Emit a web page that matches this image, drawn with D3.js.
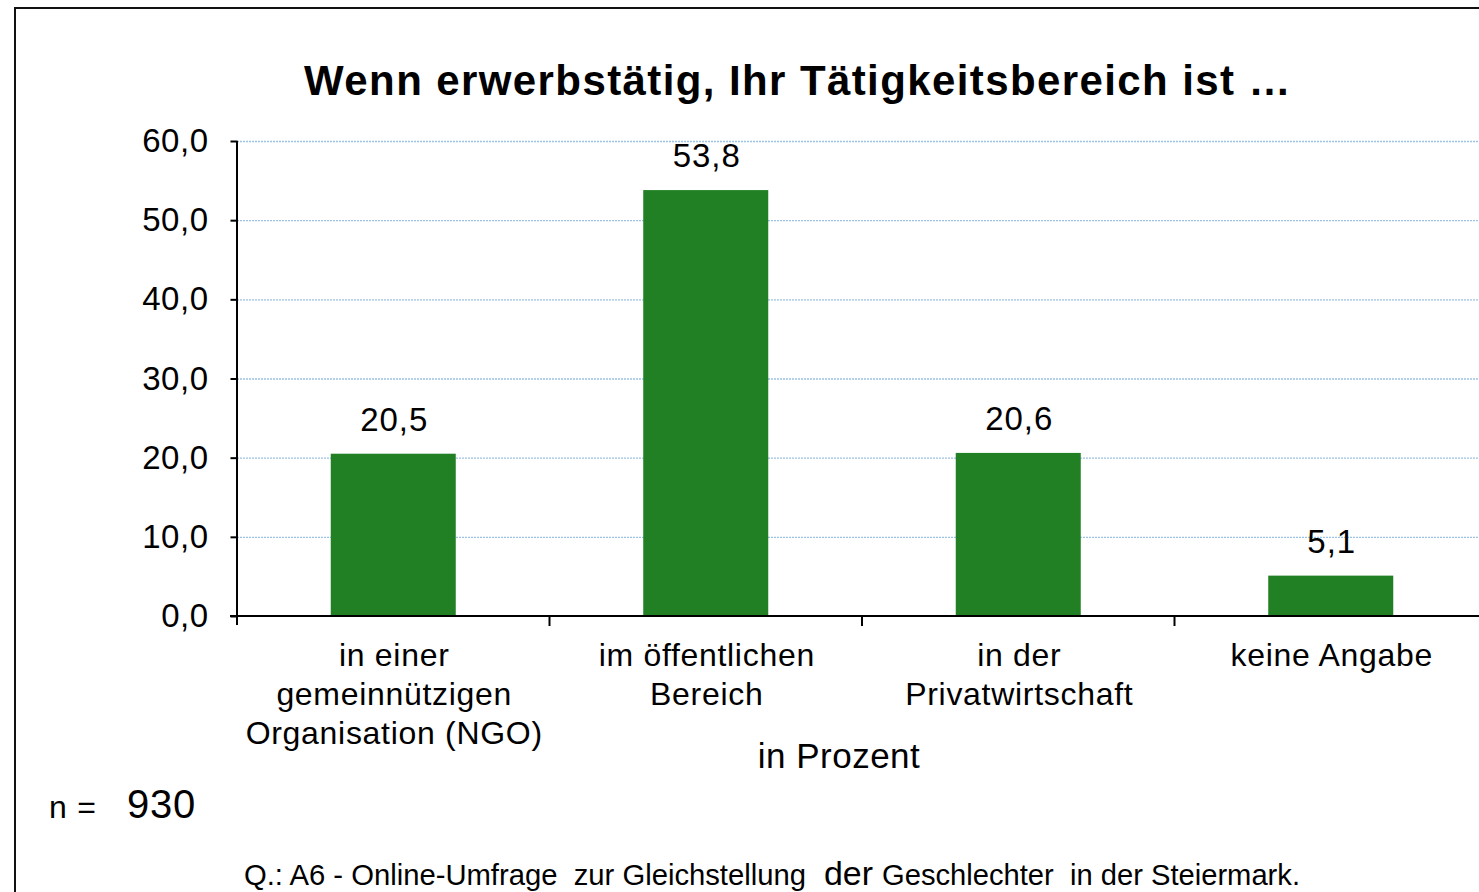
<!DOCTYPE html>
<html>
<head>
<meta charset="utf-8">
<script src="https://cdn.jsdelivr.net/npm/d3@7"></script>
<style>
  body { margin: 0; background: #fff; }
  svg { display: block; }
  text { font-family: Arial, "Liberation Sans", sans-serif; fill: #000; }
</style>
</head>
<body>
<svg id="fig_bar" width="1479" height="892"></svg>
<script>
'use strict';

// data
const categories = [
    ['in einer', 'gemeinnützigen', 'Organisation (NGO)'],
    ['im öffentlichen', 'Bereich'],
    ['in der', 'Privatwirtschaft'],
    ['keine Angabe']
];
const values = [20.5, 53.8, 20.6, 5.1];
const y_ticks = [0, 10, 20, 30, 40, 50, 60];
const title_text = 'Wenn erwerbstätig, Ihr Tätigkeitsbereich ist …';
const axis_title = 'in Prozent';
const n_label = 'n =';
const n_value = '930';
const source_parts = ['Q.: A6 - Online-Umfrage  zur Gleichstellung', 'der', 'Geschlechter  in der Steiermark.'];

const fig = {
    svg: d3.select('#fig_bar'),
    left: 237,
    right: 1487,
    top: 141,
    bottom: 616,
    color_bar: '#218023',
    color_grid: '#9cc2e6',
    font_size: 32,

    draw: function() {
        const svg = this.svg;

        // outer frame (cut off at right / bottom like the screenshot)
        svg.append('rect')
            .attr('x', 15).attr('y', 8)
            .attr('width', 1600).attr('height', 1000)
            .attr('fill', 'none')
            .attr('stroke', '#111')
            .attr('stroke-width', 2);

        const x = d3.scaleBand()
            .domain(d3.range(values.length))
            .range([this.left, this.right])
            .paddingInner(0.6)
            .paddingOuter(0.3);
        const x_edges = d3.scaleLinear()
            .domain([0, values.length])
            .range([this.left, this.right]);
        const y = d3.scaleLinear()
            .domain([0, 60])
            .range([this.bottom, this.top]);

        // gridlines
        svg.append('g')
            .selectAll('line')
            .data(y_ticks.filter(d => d > 0))
            .enter()
            .append('line')
            .attr('x1', this.left)
            .attr('x2', 1479)
            .attr('y1', d => y(d) + 0.5)
            .attr('y2', d => y(d) + 0.5)
            .attr('stroke', this.color_grid)
            .attr('stroke-width', 1.3)
            .attr('stroke-dasharray', '2,1');

        // bars
        svg.append('g')
            .selectAll('rect')
            .data(values)
            .enter()
            .append('rect')
            .attr('x', (d, i) => x(i))
            .attr('width', x.bandwidth())
            .attr('y', d => y(d))
            .attr('height', d => this.bottom - y(d))
            .attr('fill', this.color_bar);

        // value labels
        svg.append('g')
            .selectAll('text')
            .data(values)
            .enter()
            .append('text')
            .attr('x', (d, i) => x(i) + x.bandwidth() / 2 + 1)
            .attr('y', d => y(d) - 23)
            .attr('text-anchor', 'middle')
            .attr('font-size', 33)
            .attr('letter-spacing', 1)
            .text(d => d.toFixed(1).replace('.', ','));

        // y axis
        const y_axis = d3.axisLeft(y)
            .tickValues(y_ticks)
            .tickSize(7)
            .tickPadding(22)
            .tickFormat(d => d.toFixed(1).replace('.', ','));
        const gy = svg.append('g')
            .attr('transform', 'translate(' + (this.left + 0.5) + ',0)')
            .call(y_axis);
        gy.select('.domain').remove();
        gy.selectAll('line').attr('stroke', '#000').attr('stroke-width', 2);
        gy.selectAll('text')
            .attr('font-size', 33)
            .attr('letter-spacing', 0.5)
            .attr('font-family', 'Arial, "Liberation Sans", sans-serif')
            .attr('fill', '#000');
        svg.append('line')
            .attr('x1', this.left).attr('x2', this.left)
            .attr('y1', this.top).attr('y2', this.bottom + 9)
            .attr('stroke', '#000').attr('stroke-width', 2);

        // x axis
        svg.append('line')
            .attr('x1', this.left - 7).attr('x2', 1479)
            .attr('y1', this.bottom).attr('y2', this.bottom)
            .attr('stroke', '#000').attr('stroke-width', 2);
        svg.append('g')
            .selectAll('line')
            .data(d3.range(1, values.length))
            .enter()
            .append('line')
            .attr('x1', d => x_edges(d))
            .attr('x2', d => x_edges(d))
            .attr('y1', this.bottom)
            .attr('y2', this.bottom + 10)
            .attr('stroke', '#000').attr('stroke-width', 2);

        // category labels
        const labels = svg.append('g')
            .selectAll('text')
            .data(categories)
            .enter()
            .append('text')
            .attr('text-anchor', 'middle')
            .attr('font-size', this.font_size)
            .attr('letter-spacing', 0.7);
        labels.selectAll('tspan')
            .data((d, i) => d.map(s => ({ s: s, i: i })))
            .enter()
            .append('tspan')
            .attr('x', d => x(d.i) + x.bandwidth() / 2 + 1)
            .attr('y', (d, k) => this.bottom + 50 + k * 39)
            .text(d => d.s);

        // title
        svg.append('text')
            .attr('x', 798)
            .attr('y', 95)
            .attr('text-anchor', 'middle')
            .attr('font-size', 42)
            .attr('font-weight', 'bold')
            .attr('letter-spacing', 1.4)
            .text(title_text);

        // axis title
        svg.append('text')
            .attr('x', 839)
            .attr('y', 768)
            .attr('text-anchor', 'middle')
            .attr('font-size', 35)
            .attr('letter-spacing', 0.5)
            .text(axis_title);

        // n =
        svg.append('text')
            .attr('x', 49).attr('y', 818)
            .attr('font-size', 32)
            .attr('letter-spacing', 0.8)
            .text(n_label);
        svg.append('text')
            .attr('x', 127).attr('y', 818)
            .attr('font-size', 40)
            .attr('letter-spacing', 0.8)
            .text(n_value);

        // source line (narrow face imitated with textLength)
        const src_x = [244, 824, 882];
        const src_len = [562, 49, 418];
        source_parts.forEach((s, i) => {
            svg.append('text')
                .attr('x', src_x[i])
                .attr('y', 885)
                .attr('font-size', i == 1 ? 33 : 30)
                .attr('textLength', src_len[i])
                .attr('lengthAdjust', 'spacingAndGlyphs')
                .attr('xml:space', 'preserve')
                .text(s);
        });
    }
};

fig.draw();
</script>
</body>
</html>
